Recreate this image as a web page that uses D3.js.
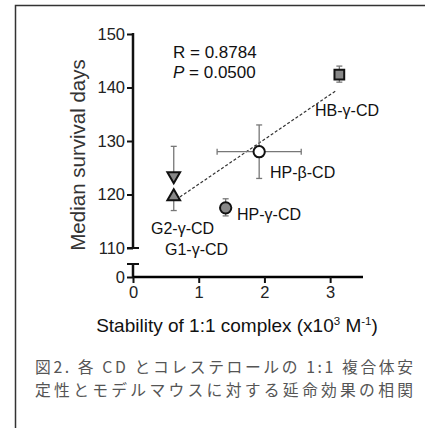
<!DOCTYPE html>
<html>
<head>
<meta charset="utf-8">
<script src="https://cdn.jsdelivr.net/npm/d3@7"></script>
<style>
  body { margin: 0; background: #fff; }
  svg text { font-family: "Liberation Sans", Arial, sans-serif; }
</style>
</head>
<body>
<div id="main"></div>
<script>
// data
var names = ["G2-γ-CD", "G1-γ-CD", "HP-γ-CD", "HP-β-CD", "HB-γ-CD"]
var stability = [0.62, 0.62, 1.41, 1.92, 3.14]
var stabErr = [0, 0, 0, 0.64, 0]
var survival = [123.3, 119.8, 117.5, 128, 142.4]
var survLo = [123.3, 117, 116, 123, 141]
var survHi = [129, 119.8, 119.2, 133, 144]
var shapes = ["down", "up", "circle", "circle", "square"]
var fills = ["#888", "#888", "#888", "#fff", "#888"]
var fitLine = [[0.65, 119], [3.1, 139.5]]
var xTicks = [0, 1, 2, 3]
var yTicks = [110, 120, 130, 140, 150]

var w = 425, h = 428

var svg = d3.select("#main").append("svg")
	.attr("width", w)
	.attr("height", h)

// frame (only top and left edges show)
svg.append("path")
	.attr("d", "M15.5,428 L15.5,5.5 L425,5.5")
	.attr("fill", "none")
	.attr("stroke", "#333")
	.attr("stroke-width", 1.5)

var x = d3.scaleLinear().domain([0, 3.5]).range([133, 363])
var y = d3.scaleLinear().domain([110, 150]).range([248, 34])
var yLow = d3.scaleLinear().domain([0, 2.5]).range([277, 264])
var fmt = d3.format("d")

var g = svg.append("g")

// upper y axis
var yAx = g.append("g")
	.attr("transform", "translate(" + x(0) + ",0)")
	.call(d3.axisLeft(y).tickValues(yTicks).tickFormat(fmt).tickSize(6).tickPadding(2))
yAx.select(".domain").remove()
yAx.append("line").attr("x1", 0).attr("x2", 0).attr("y1", y(150) - 1).attr("y2", y(110))
	.attr("stroke", "#111").attr("stroke-width", 2.5)
yAx.append("line").attr("x1", -6).attr("x2", 6).attr("y1", y(110)).attr("y2", y(110))
	.attr("stroke", "#111").attr("stroke-width", 2)

// lower y axis segment
var yAx2 = g.append("g")
	.attr("transform", "translate(" + x(0) + ",0)")
	.call(d3.axisLeft(yLow).tickValues([0]).tickFormat(fmt).tickSize(6).tickPadding(2))
yAx2.select(".domain").remove()
yAx2.append("line").attr("x1", 0).attr("x2", 0).attr("y1", yLow(2.5)).attr("y2", yLow(0))
	.attr("stroke", "#111").attr("stroke-width", 2.5)
yAx2.append("line").attr("x1", -6).attr("x2", 6).attr("y1", yLow(2.5)).attr("y2", yLow(2.5))
	.attr("stroke", "#111").attr("stroke-width", 2)

// x axis
var xAx = g.append("g")
	.attr("transform", "translate(0," + yLow(0) + ")")
	.call(d3.axisBottom(x).tickValues(xTicks).tickFormat(fmt).tickSize(6).tickPadding(3))
xAx.select(".domain").attr("stroke-width", 2.5).attr("d", "M" + x(0) + ",0H" + x(3.5))

g.selectAll(".tick line").attr("stroke", "#111").attr("stroke-width", 2)
g.selectAll(".tick text")
	.attr("fill", "#222")
	.style("font-size", "16.5px")
	.style("font-family", "'Liberation Sans', Arial, sans-serif")

// axis titles
svg.append("text")
	.attr("transform", "translate(85," + (y(130) + 14) + ") rotate(-90)")
	.attr("text-anchor", "middle")
	.style("font-size", "20.5px")
	.attr("fill", "#333")
	.text("Median survival days")

var xt = svg.append("text")
	.attr("x", 237)
	.attr("y", 332)
	.attr("text-anchor", "middle")
	.style("font-size", "19px")
	.attr("fill", "#111")
xt.append("tspan").text("Stability of 1:1 complex (x10")
xt.append("tspan").attr("dy", -7).style("font-size", "11.5px").text("3")
xt.append("tspan").attr("dy", 7).text(" M")
xt.append("tspan").attr("dy", -7).style("font-size", "11.5px").text("-1")
xt.append("tspan").attr("dy", 7).text(")")

// stats
svg.append("text").attr("x", 173).attr("y", 58).style("font-size", "17px").attr("fill", "#111")
	.text("R = 0.8784")
var pt = svg.append("text").attr("x", 173).attr("y", 78).style("font-size", "17px").attr("fill", "#111")
pt.append("tspan").attr("font-style", "italic").text("P")
pt.append("tspan").text(" = 0.0500")

// regression line
svg.append("path")
	.attr("d", d3.line().x(function(d) { return x(d[0]) }).y(function(d) { return y(d[1]) })(fitLine))
	.attr("stroke", "#333")
	.attr("stroke-width", 1.2)
	.attr("stroke-dasharray", "3,2")
	.attr("fill", "none")

// error bars
var errs = svg.append("g").attr("stroke", "#777").attr("stroke-width", 1.3)
for (var i = 0; i < names.length; i++) {
	var cx = x(stability[i])
	if (survHi[i] > survLo[i]) {
		errs.append("line").attr("x1", cx).attr("x2", cx).attr("y1", y(survLo[i])).attr("y2", y(survHi[i]))
		if (survHi[i] > survival[i]) errs.append("line").attr("x1", cx - 3).attr("x2", cx + 3).attr("y1", y(survHi[i])).attr("y2", y(survHi[i]))
		if (survLo[i] < survival[i]) errs.append("line").attr("x1", cx - 3).attr("x2", cx + 3).attr("y1", y(survLo[i])).attr("y2", y(survLo[i]))
	}
	if (stabErr[i] > 0) {
		var cy = y(survival[i])
		errs.append("line").attr("x1", x(stability[i] - stabErr[i])).attr("x2", x(stability[i] + stabErr[i])).attr("y1", cy).attr("y2", cy)
		errs.append("line").attr("x1", x(stability[i] - stabErr[i])).attr("x2", x(stability[i] - stabErr[i])).attr("y1", cy - 3).attr("y2", cy + 3)
		errs.append("line").attr("x1", x(stability[i] + stabErr[i])).attr("x2", x(stability[i] + stabErr[i])).attr("y1", cy - 3).attr("y2", cy + 3)
	}
}

// markers
var symbolFor = {
	up: d3.symbol().type(d3.symbolTriangle).size(70),
	down: d3.symbol().type(d3.symbolTriangle).size(70),
	circle: d3.symbol().type(d3.symbolCircle).size(100),
	square: d3.symbol().type(d3.symbolSquare).size(95)
}
svg.selectAll(".pt")
	.data(names)
	.enter().append("path")
	.attr("class", "pt")
	.attr("d", function(d, i) { return symbolFor[shapes[i]]() })
	.attr("transform", function(d, i) {
		var t = "translate(" + x(stability[i]) + "," + y(survival[i]) + ")"
		if (shapes[i] == "up") t += " translate(0,1)"
		if (shapes[i] == "down") t += " rotate(180) translate(0,1)"
		return t
	})
	.attr("fill", function(d, i) { return fills[i] })
	.attr("stroke", "#111")
	.attr("stroke-width", 2)

// point labels
var labelPos = [[151, 234], [165, 255], [237, 220], [270, 178], [315, 116]]
svg.selectAll(".lbl")
	.data(names)
	.enter().append("text")
	.attr("class", "lbl")
	.attr("x", function(d, i) { return labelPos[i][0] })
	.attr("y", function(d, i) { return labelPos[i][1] })
	.style("font-size", "16px")
	.attr("fill", "#111")
	.text(function(d) { return d })

// caption
var cap = ["図2. 各 CD とコレステロールの 1:1 複合体安", "定性とモデルマウスに対する延命効果の相関"]
svg.selectAll(".cap")
	.data(cap)
	.enter().append("text")
	.attr("class", "cap")
	.attr("x", 35)
	.attr("y", function(d, i) { return 373 + i * 23 })
	.attr("textLength", 378)
	.attr("lengthAdjust", "spacing")
	.style("font-size", "15.8px")
	.attr("fill", "#555")
	.style("font-family", "'Noto Sans CJK JP', sans-serif")
	.text(function(d) { return d })
</script>
</body>
</html>
